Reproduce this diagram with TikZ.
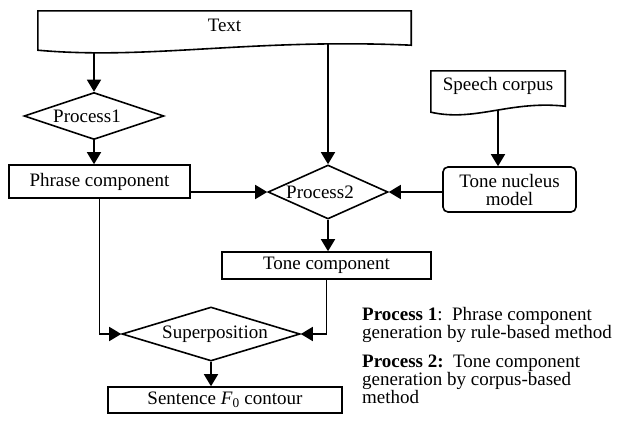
\documentclass[tikz,border=0pt]{standalone}
\usepackage{fontspec}
\setmainfont{Liberation Serif}
\usetikzlibrary{shapes.geometric,arrows.meta,calc}
\pgfdeclarelayer{background}
\pgfdeclarelayer{docfill}
\pgfsetlayers{background,docfill,main}
\begin{document}
\begin{tikzpicture}[x=1pt,y=-1pt,
  every node/.style={font=\fontsize{19}{18}\selectfont, inner sep=0pt},
  boxnode/.style={draw, line width=1.6pt, fill=white, minimum width=#1},
  docnode/.style={minimum width=#1},
  docshape/.style={draw, line width=1.6pt, fill=white},
  decision/.style={draw, diamond, line width=1.6pt, fill=white, minimum width=#1},
  conn/.style={line width=1.6pt, -{Triangle[length=12pt,width=14pt]}},
  legend/.style={anchor=base west}
]
\useasboundingbox (0,0) rectangle (618,426);

% nodes
\node[docnode=373pt, minimum height=28pt] (txt) at (224.5,25) {Text};
\node[docnode=134pt, minimum height=30pt] (sc) at (498,86) {Speech corpus};
\node[decision=140pt, minimum height=47pt] (p1) at (94,116) {};
\node (p1t) at (87,116) {Process1};
\node[boxnode=181pt, minimum height=33pt] (ph) at (99.5,181.5) {Phrase component};
\node[decision=120pt, minimum height=54pt] (p2) at (328,192) {};
\node (p2t) at (320,192) {Process2};
\node[boxnode=133pt, minimum height=45pt, rounded corners=5pt, align=center] (tn) at (509.5,189.5) {Tone nucleus\\model};
\node[boxnode=209pt, minimum height=27pt] (tc) at (326.5,265.5) {Tone component};
\node[decision=178pt, minimum height=54pt] (sup) at (211,334) {};
\node (supt) at (215,334) {Superposition};
\node[boxnode=234pt, minimum height=26pt] (sf) at (225,400) {Sentence \textit{F}\textsubscript{0} contour};

% document shapes
\begin{pgfonlayer}{docfill}
\path[docshape] (txt.north west) -- (txt.north east) -- ($(txt.south east)+(0,6)$)
  .. controls ($(txt.south)+(25,-1)$) and ($(txt.south)+(-75,21)$) .. ($(txt.south west)+(0,11)$) -- cycle;
\path[docshape] (sc.north west) -- (sc.north east) -- ($(sc.south east)+(0,5)$)
  .. controls ($(sc.south)+(12,-1)$) and ($(sc.south)+(-23,21)$) .. ($(sc.south west)+(0,11)$) -- cycle;
\end{pgfonlayer}

% connectors
\begin{pgfonlayer}{background}
\draw[conn] (txt.center -| p1.north) -- (p1.north);
\draw[conn] (txt.center -| p2.north) -- (p2.north);
\draw[conn] (sc.center) -- (sc.center |- tn.north);
\end{pgfonlayer}
\draw[conn] (p1.south) -- (p1.south |- ph.north);
\draw[conn] (ph.east |- p2.west) -- (p2.west);
\draw[conn] (tn.west |- p2.east) -- (p2.east);
\draw[conn] (p2.south) -- (p2.south |- tc.north);
\draw[conn] (ph.south) |- (sup.west);
\draw[conn] (tc.south) |- (sup.east);
\draw[conn] (sup.south) -- (sup.south |- sf.north);

% legend
\node[legend] (l1) at (362,320) {\textbf{Process 1}:\ \ Phrase component};
\node[legend] (l2) at (362,338) {generation by rule-based method};
\node[legend] (l3) at (362,367) {\textbf{Process 2:}\ \ Tone component};
\node[legend] (l4) at (362,385) {generation by corpus-based};
\node[legend] (l5) at (362,403) {method};
\end{tikzpicture}
\end{document}
